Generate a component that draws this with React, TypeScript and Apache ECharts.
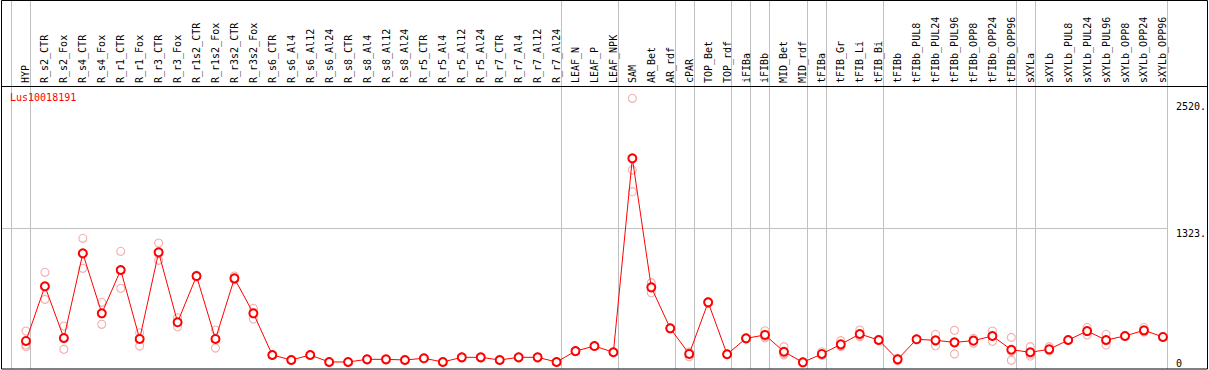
import React, { useEffect, useRef } from "react";
import * as echarts from "echarts";

const categories = [
  "HYP", "R_s2_CTR", "R_s2_Fox", "R_s4_CTR", "R_s4_Fox", "R_r1_CTR", "R_r1_Fox", "R_r3_CTR", "R_r3_Fox",
  "R_r1s2_CTR", "R_r1s2_Fox", "R_r3s2_CTR", "R_r3s2_Fox", "R_s6_CTR", "R_s6_Al4", "R_s6_Al12", "R_s6_Al24",
  "R_s8_CTR", "R_s8_Al4", "R_s8_Al12", "R_s8_Al24", "R_r5_CTR", "R_r5_Al4", "R_r5_Al12", "R_r5_Al24",
  "R_r7_CTR", "R_r7_Al4", "R_r7_Al12", "R_r7_Al24", "LEAF_N", "LEAF_P", "LEAF_NPK", "SAM", "AR_Bet", "AR_rdf",
  "cPAR", "TOP_Bet", "TOP_rdf", "iFIBa", "iFIBb", "MID_Bet", "MID_rdf", "tFIBa", "tFIB_Gr", "tFIB_Li", "tFIB_Bi",
  "tFIBb", "tFIBb_PUL8", "tFIBb_PUL24", "tFIBb_PUL96", "tFIBb_OPP8", "tFIBb_OPP24", "tFIBb_OPP96", "sXYLa",
  "sXYLb", "sXYLb_PUL8", "sXYLb_PUL24", "sXYLb_PUL96", "sXYLb_OPP8", "sXYLb_OPP24", "sXYLb_OPP96",
];

const means = [
  256, 774, 284, 1086, 518, 928, 275, 1096, 433, 871, 275, 849, 518, 123, 76, 123, 57, 57, 82, 82, 76, 92, 57,
  101, 101, 76, 101, 101, 57, 160, 208, 149, 1986, 764, 376, 133, 622, 130, 281, 313, 154, 54, 133, 224, 322,
  265, 82, 272, 262, 243, 259, 303, 173, 149, 177, 265, 350, 265, 303, 357, 294,
];

const rep1 = [
  350, 906, 398, 1228, 622, 1105, 334, 1184, 476, 880, 360, 871, 565, 126, 79, 126, 60, 60, 85, 85, 79, 95, 60,
  104, 104, 79, 104, 104, 60, 164, 212, 152, 2554, 808, 380, 107, 630, 133, 285, 353, 202, 58, 154, 259, 360,
  272, 85, 275, 319, 357, 281, 350, 290, 202, 202, 268, 385, 319, 306, 385, 298,
];
const rep2 = [
  218, 650, 177, 944, 414, 755, 208, 1020, 391, 862, 189, 840, 464, 120, 73, 120, 54, 54, 79, 79, 73, 89, 54,
  98, 98, 73, 98, 98, 54, 158, 205, 146, 1875, 713, 372, 140, 615, 127, 278, 300, 123, 50, 125, 210, 310,
  258, 70, 268, 211, 133, 234, 253, 73, 114, 165, 262, 313, 218, 300, 340, 290,
];
const rep3 = [
  202, 766, 277, 1086, 518, 924, 283, 1084, 432, 871, 276, 836, 525, 123, 76, 123, 57, 57, 82, 82, 76, 92, 57,
  101, 101, 76, 101, 101, 57, 158, 207, 149, 1670, 771, 376, 152, 621, 130, 280, 286, 137, 54, 120, 203, 296,
  265, 91, 273, 256, 239, 262, 306, 156, 131, 164, 265, 352, 258, 303, 346, 294,
];

// indices after which a grey group separator is drawn (-1 = before the first category)
const groupEnds = [-1, 0, 28, 31, 34, 35, 37, 38, 39, 41, 42, 45, 52, 53, 60];

const yTickLabels = [1323, 2520];
const yZeroLabel = [0];
const gridValue = 1323;
const yMax = 2671;
const title = "Lus10018191";

const FONT = "DejaVu Sans Mono";

export default function App() {
  const ref = useRef<HTMLDivElement>(null);

  useEffect(() => {
    document.body.style.margin = "0";
    const chart = echarts.init(ref.current!, undefined, { renderer: "svg" });

    const repData: [number, number][] = [];
    [rep1, rep2, rep3].forEach((r) => r.forEach((v, i) => repData.push([i, v])));

    const option: any = {
      animation: false,
      title: {
        text: title,
        left: 10,
        top: 92,
        padding: 0,
        textStyle: { color: "#ff0000", fontSize: 10, fontFamily: FONT, fontWeight: "normal" },
      },
      grid: { left: 16.5, top: 86, width: 1159, height: 282 },
      xAxis: [
        {
          type: "category",
          data: categories,
          position: "top",
          boundaryGap: true,
          axisLine: { show: false },
          axisTick: { show: false },
          splitLine: { show: false },
          axisLabel: { rotate: 90, interval: 0, margin: 3, fontSize: 10, fontFamily: FONT, color: "#000" },
        },
      ],
      yAxis: [
        {
          type: "value",
          min: 0,
          max: yMax,
          position: "right",
          splitLine: { show: false },
          axisLine: { show: false },
          axisTick: { show: false },
          axisLabel: {
            customValues: yTickLabels,
            formatter: (v: number) => v + ".",
            align: "left",
            verticalAlign: "top",
            margin: 3.5,
            fontSize: 10,
            fontFamily: FONT,
            color: "#000",
          },
        },
        {
          type: "value",
          min: 0,
          max: yMax,
          position: "right",
          splitLine: { show: false },
          axisLine: { show: false },
          axisTick: { show: false },
          axisLabel: {
            customValues: yZeroLabel,
            formatter: (v: number) => String(v),
            align: "left",
            verticalAlign: "bottom",
            margin: 3.5,
            fontSize: 10,
            fontFamily: FONT,
            color: "#000",
          },
        },
      ],
      series: [
        {
          type: "scatter",
          data: repData,
          symbol: "circle",
          symbolSize: 8,
          itemStyle: { color: "rgba(0,0,0,0)", borderColor: "#ef9a9a", borderWidth: 1.1 },
          z: 2,
        },
        {
          type: "line",
          data: means,
          symbol: "emptyCircle",
          symbolSize: 8,
          showAllSymbol: true,
          lineStyle: { color: "#ff0000", width: 1 },
          itemStyle: { color: "#ff0000", borderColor: "#ff0000", borderWidth: 1.3 },
          z: 3,
        },
      ],
    };
    chart.setOption(option);

    const px = (i: number) => chart.convertToPixel({ xAxisIndex: 0 }, i) as number;
    const step = px(1) - px(0);
    const sepXs = groupEnds.map((i) => px(0) + (i + 0.23) * step);
    const gy = chart.convertToPixel({ yAxisIndex: 0 }, gridValue) as number;
    const lastSep = sepXs[sepXs.length - 1];

    const graphics: any[] = [];
    sepXs.forEach((x) => {
      graphics.push({
        type: "line",
        shape: { x1: Math.round(x) + 0.5, y1: 0, x2: Math.round(x) + 0.5, y2: 369 },
        style: { stroke: "#c0c0c0", lineWidth: 1 },
        z: 0,
        silent: true,
      });
    });
    graphics.push({
      type: "line",
      shape: { x1: 1, y1: Math.round(gy) + 0.5, x2: Math.round(lastSep), y2: Math.round(gy) + 0.5 },
      style: { stroke: "#c0c0c0", lineWidth: 1 },
      z: 0,
      silent: true,
    });
    graphics.push({
      type: "line",
      shape: { x1: 1, y1: 86.5, x2: 1208, y2: 86.5 },
      style: { stroke: "#000", lineWidth: 1 },
      z: 1,
      silent: true,
    });
    graphics.push({
      type: "rect",
      shape: { x: 1.5, y: 0.5, width: 1206, height: 368.5 },
      style: { stroke: "#000", fill: "none", lineWidth: 1 },
      z: 1,
      silent: true,
    });
    chart.setOption({ graphic: graphics });

    return () => chart.dispose();
  }, []);

  return <div ref={ref} style={{ width: 1209, height: 370 }} />;
}
